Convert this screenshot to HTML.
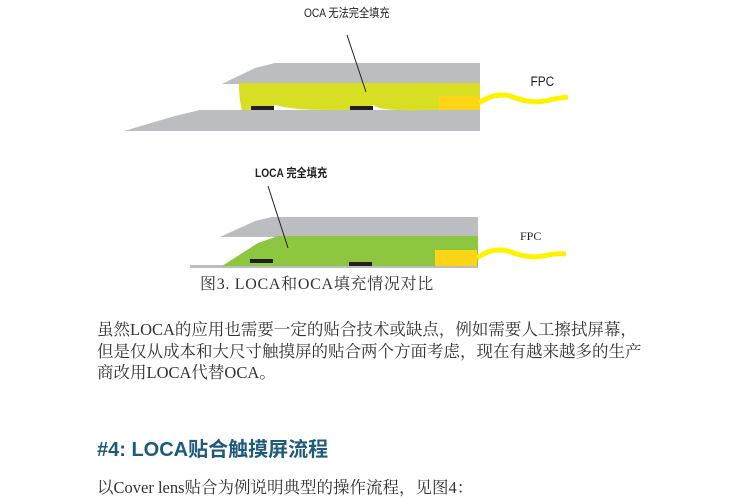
<!DOCTYPE html>
<html><head><meta charset="utf-8"><style>
html,body{margin:0;padding:0;background:#fff;}
body{width:750px;height:500px;position:relative;overflow:hidden;}
.t{position:absolute;white-space:nowrap;}
.p{font-family:"Liberation Serif","Noto Serif CJK SC","Noto Sans CJK SC",serif;font-size:16.5px;color:#333;left:97px;line-height:21.5px;}
</style></head><body>
<svg width="750" height="300" style="position:absolute;left:0;top:0">
<polygon points="124,131 175,116 200,110 480,110 480,131" fill="#bcbdc0"/>
<polygon points="222,84 255,68 275,63 480,63 480,84" fill="#bcbdc0"/>
<path d="M239,83 L480,83 L480,110 L430,110 Q425,110 420,110 Q410,111 400,110 Q380,110 373,105 Q362,111 330,110 Q290,110 276,105 Q265,110 242,110 Q239,100 239,83 Z" fill="#d8de21"/>
<rect x="251" y="106" width="23" height="4" fill="#231f20"/>
<rect x="350" y="106" width="23" height="4" fill="#231f20"/>
<rect x="439" y="96" width="41" height="14" fill="#fcd616"/>
<path d="M479,103 Q495,92 510,96 Q530,104 545,101 Q558,98 568,97" stroke="#fff200" stroke-width="5" fill="none"/>
<line x1="347" y1="35" x2="366" y2="92" stroke="#231f20" stroke-width="1"/>
<text x="530" y="86" font-family="Liberation Sans,sans-serif" font-size="14" fill="#231f20" transform="translate(80,0) scale(0.85,1)">FPC</text>
<rect x="190" y="265" width="288" height="3" fill="#bcbdc0"/>
<polygon points="220,237 255,221 272,217 478,217 478,237" fill="#bcbdc0"/>
<polygon points="222,266 258,243 278,236 478,236 478,266" fill="#8dc63f"/>
<rect x="250" y="259" width="23" height="4" fill="#231f20"/>
<rect x="349" y="262" width="23" height="4" fill="#231f20"/>
<rect x="435" y="250" width="42" height="16" fill="#fcd616"/>
<path d="M477,258 Q492,247 508,251 Q528,259 543,256 Q556,253 566,254" stroke="#fff200" stroke-width="5" fill="none"/>
<line x1="268" y1="186" x2="288" y2="248" stroke="#231f20" stroke-width="1"/>
<text x="520" y="240" font-family="Liberation Serif,serif" font-size="12" fill="#231f20">FPC</text>
</svg>
<div class="t" style="left:304px;top:4px;font-family:'Liberation Sans','Noto Sans CJK SC',sans-serif;font-size:12px;color:#231f20;transform:scaleX(0.85);transform-origin:left">OCA 无法完全填充</div>
<div class="t" style="left:255px;top:164px;font-family:'Liberation Sans','Noto Sans CJK SC',sans-serif;font-size:12px;font-weight:bold;color:#231f20;transform:scaleX(0.85);transform-origin:left">LOCA 完全填充</div>
<div class="t" style="left:200px;top:271px;font-family:'Liberation Serif','Noto Serif CJK SC',serif;font-size:16px;letter-spacing:0.7px;color:#333">图3. LOCA和OCA填充情况对比</div>
<div class="t p" style="top:319px">虽然LOCA的应用也需要一定的贴合技术或缺点，例如需要人工擦拭屏幕，<br>但是仅从成本和大尺寸触摸屏的贴合两个方面考虑，现在有越来越多的生产<br>商改用LOCA代替OCA。</div>
<div class="t" style="left:97px;top:433px;font-family:'Liberation Sans','Noto Sans CJK SC',sans-serif;font-size:20px;font-weight:bold;color:#1d5a7c">#4: LOCA贴合触摸屏流程</div>
<div class="t p" style="top:477px">以Cover lens贴合为例说明典型的操作流程，见图4：</div>
</body></html>
